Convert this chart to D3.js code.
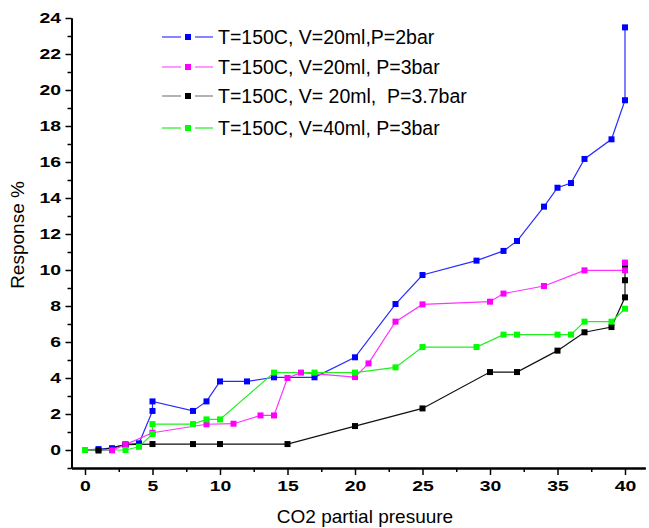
<!DOCTYPE html>
<html>
<head>
<meta charset="utf-8">
<script src="https://cdn.jsdelivr.net/npm/d3@7"></script>
<style>
  html, body { margin: 0; padding: 0; background: #fff; }
  svg { display: block; font-family: "Liberation Sans", Arial, sans-serif; }
</style>
</head>
<body>
<svg id="chart" width="649" height="528"></svg>
<script>
// CO2 partial pressure readings and sensor response (%) for four test conditions
const p2barX  = [0, 1, 2, 3, 4, 5, 5, 8, 9, 10, 12, 14, 17, 20, 23, 25, 29, 31, 32, 34, 35, 36, 37, 39, 40, 40];
const p2barY  = [0, 0.05, 0.1, 0.3, 0.37, 2.17, 2.7, 2.17, 2.7, 3.81, 3.81, 4.04, 4.04, 5.15, 8.11, 9.72, 10.52, 11.06, 11.61, 13.52, 14.57, 14.83, 16.17, 17.26, 19.43, 23.48];

const p3barX  = [0, 2, 3, 5, 9, 11, 13, 14, 15, 16, 20, 21, 23, 25, 30, 31, 34, 37, 40, 40];
const p3barY  = [0, -0.02, 0.3, 0.96, 1.43, 1.46, 1.92, 1.92, 4.0, 4.3, 4.05, 4.81, 7.13, 8.09, 8.24, 8.69, 9.11, 9.98, 9.98, 10.41];

const p37barX = [0, 1, 3, 5, 8, 10, 15, 20, 25, 30, 32, 35, 37, 39, 40, 40, 40];
const p37barY = [0, -0.03, 0.3, 0.33, 0.33, 0.33, 0.33, 1.33, 2.31, 4.33, 4.33, 5.52, 6.54, 6.83, 8.48, 9.43, 10.1];

const v40X    = [0, 3, 4, 5, 5, 8, 9, 10, 14, 17, 20, 23, 25, 29, 31, 32, 35, 36, 37, 39, 40];
const v40Y    = [0, 0, 0.18, 0.89, 1.44, 1.44, 1.7, 1.7, 4.3, 4.3, 4.3, 4.59, 5.72, 5.72, 6.41, 6.41, 6.41, 6.41, 7.13, 7.13, 7.85];

const legendLabels = [
  "T=150C, V=20ml,P=2bar",
  "T=150C, V=20ml, P=3bar",
  "T=150C, V= 20ml,  P=3.7bar",
  "T=150C, V=40ml, P=3bar"
];

const xMajorTicks = [0, 5, 10, 15, 20, 25, 30, 35, 40];
const xMinorTicks = [2.5, 7.5, 12.5, 17.5, 22.5, 27.5, 32.5, 37.5];
const yMajorTicks = [0, 2, 4, 6, 8, 10, 12, 14, 16, 18, 20, 22, 24];
const yMinorTicks = [-1, 1, 3, 5, 7, 9, 11, 13, 15, 17, 19, 21, 23];

const xTitle = "CO2 partial presuure";
const yTitle = "Response %";

// Styling for each series (legend order)
const styles = [
  { marker: "#0000ff", line: "#2a2aff", legendLine: "#3333ff" },
  { marker: "#ff00ff", line: "#ff33ff", legendLine: "#ff55ff" },
  { marker: "#000000", line: "#111111", legendLine: "#808080" },
  { marker: "#00ff00", line: "#22ee22", legendLine: "#22ee22" }
];

const series = [
  { xs: p2barX, ys: p2barY },
  { xs: p3barX, ys: p3barY },
  { xs: p37barX, ys: p37barY },
  { xs: v40X, ys: v40Y }
].map((s, i) => ({
  label: legendLabels[i],
  style: styles[i],
  points: s.xs.map((x, j) => ({ x, y: s.ys[j] }))
}));

const svg = d3.select("#chart");

const x = d3.scaleLinear().domain([-1, 41.5]).range([71.5, 645.25]);
const y = d3.scaleLinear().domain([-1, 24]).range([468, 18]);

// Tick labels are bold and drawn slightly wide
const tickFontSize = "15.5px";
const tickStretch = 1.25;

// Axes
const xMinor = svg.append("g").attr("transform", `translate(0,${y(-1)})`)
  .call(d3.axisBottom(x).tickValues(xMinorTicks).tickSize(4).tickSizeOuter(0).tickFormat(""));
const xMajor = svg.append("g").attr("transform", `translate(0,${y(-1)})`)
  .call(d3.axisBottom(x).tickValues(xMajorTicks).tickSize(7).tickSizeOuter(0).tickPadding(5));
const yMinor = svg.append("g").attr("transform", `translate(${x(-1)},0)`)
  .call(d3.axisLeft(y).tickValues(yMinorTicks).tickSize(4).tickSizeOuter(0).tickFormat(""));
const yMajor = svg.append("g").attr("transform", `translate(${x(-1)},0)`)
  .call(d3.axisLeft(y).tickValues(yMajorTicks).tickSize(6).tickSizeOuter(0).tickPadding(5));

[xMinor, xMajor, yMinor, yMajor].forEach(g => {
  g.select(".domain").attr("stroke", "#000").attr("stroke-width", 2);
  g.selectAll(".tick line").attr("stroke", "#000").attr("stroke-width", 1.5);
  g.selectAll(".tick text").attr("fill", "#000")
    .attr("font-family", "'Liberation Sans', Arial, sans-serif")
    .attr("font-size", tickFontSize).attr("font-weight", "bold")
    .attr("transform", `scale(${tickStretch},1)`);
});
yMajor.selectAll(".tick text").attr("x", -10.5 / tickStretch);

// Axis titles
svg.append("text")
  .attr("x", 365).attr("y", 523)
  .attr("text-anchor", "middle")
  .attr("font-size", "19px")
  .text(xTitle);

svg.append("text")
  .attr("transform", `translate(24,235) rotate(-90)`)
  .attr("text-anchor", "middle")
  .attr("font-size", "19px")
  .text(yTitle);

// Series lines and markers
const line = d3.line().x(d => x(d.x)).y(d => y(d.y));
const drawOrder = [0, 2, 1, 3];
const markerSize = 6;

drawOrder.forEach(i => {
  const s = series[i];
  svg.append("path")
    .datum(s.points)
    .attr("fill", "none")
    .attr("stroke", s.style.line)
    .attr("stroke-width", 1.2)
    .attr("d", line);
});
drawOrder.forEach(i => {
  const s = series[i];
  svg.append("g").selectAll("rect")
    .data(s.points)
    .join("rect")
    .attr("x", d => x(d.x) - markerSize / 2)
    .attr("y", d => y(d.y) - markerSize / 2)
    .attr("width", markerSize)
    .attr("height", markerSize)
    .attr("fill", s.style.marker);
});

// Legend
const legend = svg.append("g").attr("transform", "translate(162,37)");
const rowY = [0, 30, 59, 91];
series.forEach((s, i) => {
  const row = legend.append("g").attr("transform", `translate(0,${rowY[i]})`);
  row.append("line").attr("x1", 0).attr("x2", 19).attr("y1", 0).attr("y2", 0)
    .attr("stroke", s.style.legendLine).attr("stroke-width", 1.2);
  row.append("line").attr("x1", 33).attr("x2", 51).attr("y1", 0).attr("y2", 0)
    .attr("stroke", s.style.legendLine).attr("stroke-width", 1.2);
  row.append("rect").attr("x", 26 - markerSize / 2).attr("y", -markerSize / 2)
    .attr("width", markerSize).attr("height", markerSize).attr("fill", s.style.marker);
  row.append("text")
    .attr("x", 56).attr("y", 7)
    .attr("font-size", "19.5px")
    .style("white-space", "pre")
    .text(s.label);
});
</script>
</body>
</html>
